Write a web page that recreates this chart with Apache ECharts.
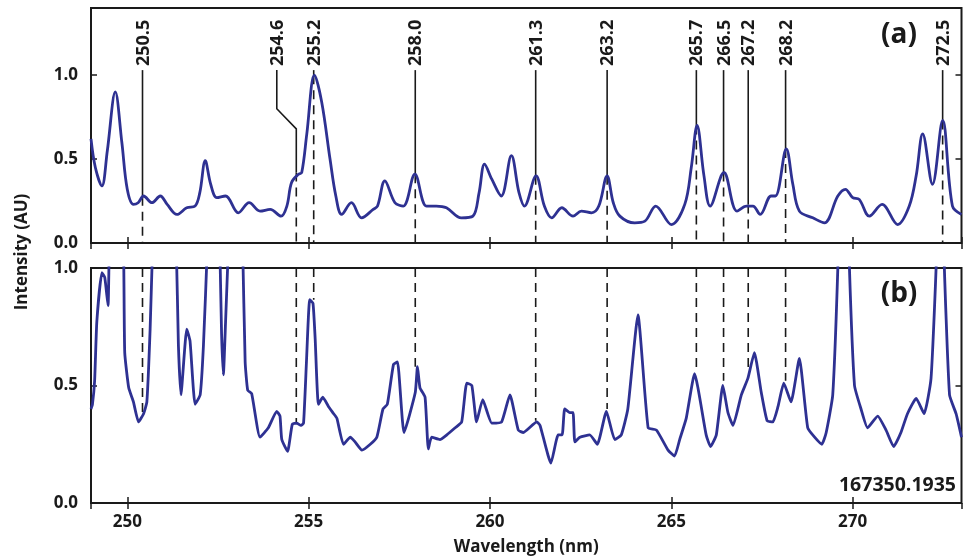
<!DOCTYPE html>
<html><head><meta charset="utf-8">
<script src="https://cdn.jsdelivr.net/npm/echarts@6/dist/echarts.min.js"></script>
<style>html,body{margin:0;padding:0;background:#fff}#c{width:963px;height:560px}</style>
</head><body><div id="c"></div>
<script>
// ---- data ----
const wavelengthsA = [249.00,249.12,249.30,249.45,249.67,249.85,250.00,250.17,250.30,250.45,250.68,250.91,251.10,251.37,251.64,251.87,252.00,252.15,252.30,252.47,252.71,253.06,253.36,253.66,253.94,254.24,254.40,254.53,254.72,254.81,254.95,255.16,255.36,255.59,255.75,255.91,256.18,256.46,256.78,256.90,257.10,257.38,257.61,257.93,258.25,258.52,258.80,259.21,259.53,259.70,259.85,260.05,260.31,260.59,260.80,260.95,261.27,261.50,261.70,261.98,262.29,262.52,262.80,263.00,263.23,263.40,263.58,263.99,264.27,264.57,265.00,265.37,265.55,265.71,265.90,266.07,266.45,266.81,267.07,267.25,267.45,267.75,267.87,268.17,268.35,268.53,268.90,269.22,269.59,269.80,270.00,270.18,270.46,270.81,271.24,271.56,271.75,271.93,272.20,272.48,272.75,273.00];
const intensityA = [0.62,0.45,0.34,0.55,0.90,0.60,0.32,0.23,0.24,0.28,0.24,0.28,0.23,0.17,0.21,0.22,0.30,0.49,0.35,0.27,0.28,0.18,0.24,0.19,0.20,0.16,0.22,0.36,0.41,0.42,0.65,1.00,0.84,0.50,0.28,0.17,0.24,0.15,0.20,0.22,0.37,0.24,0.22,0.41,0.22,0.22,0.21,0.15,0.16,0.30,0.47,0.38,0.28,0.52,0.30,0.22,0.40,0.22,0.15,0.21,0.16,0.19,0.18,0.22,0.40,0.24,0.16,0.12,0.13,0.22,0.11,0.23,0.45,0.70,0.40,0.22,0.42,0.19,0.22,0.22,0.17,0.28,0.28,0.56,0.35,0.19,0.15,0.12,0.28,0.32,0.27,0.26,0.16,0.23,0.11,0.22,0.40,0.65,0.35,0.73,0.22,0.17];

const wavelengthsB = [249.00,249.04,249.10,249.16,249.30,249.38,249.47,249.50,249.70,249.90,249.93,250.04,250.17,250.31,250.45,250.54,250.63,250.70,251.00,251.35,251.41,251.48,251.64,251.73,251.87,252.01,252.10,252.21,252.38,252.55,252.60,252.65,252.71,252.79,253.00,253.18,253.25,253.32,253.43,253.66,253.89,254.12,254.21,254.26,254.42,254.55,254.67,254.79,254.86,254.94,255.03,255.12,255.18,255.27,255.39,255.55,255.69,255.78,255.96,256.15,256.28,256.47,256.70,256.88,257.05,257.17,257.34,257.45,257.63,257.94,258.00,258.07,258.21,258.30,258.39,258.62,258.81,259.04,259.22,259.36,259.50,259.63,259.80,260.05,260.32,260.55,260.78,260.92,261.29,261.38,261.68,261.88,261.99,262.06,262.20,262.29,262.34,262.48,262.75,262.96,263.21,263.44,263.62,263.80,264.08,264.36,264.59,264.91,265.09,265.23,265.41,265.64,265.96,266.08,266.24,266.42,266.56,266.70,266.93,267.11,267.29,267.48,267.64,267.80,267.94,268.10,268.30,268.53,268.76,268.95,269.15,269.27,269.45,269.61,269.75,269.89,270.05,270.23,270.41,270.69,270.92,271.13,271.33,271.51,271.75,271.97,272.16,272.32,272.42,272.51,272.67,272.85,273.00];
const intensityB = [0.40,0.42,0.52,0.77,0.98,0.96,0.84,1.05,2.0,1.05,0.64,0.49,0.43,0.345,0.38,0.43,0.74,1.1,2.5,1.1,0.67,0.46,0.74,0.69,0.42,0.46,0.67,1.1,2.0,1.1,0.72,0.545,0.77,1.1,2.0,1.1,0.60,0.48,0.465,0.28,0.32,0.39,0.37,0.27,0.22,0.335,0.34,0.33,0.34,0.60,0.865,0.85,0.70,0.42,0.45,0.41,0.38,0.36,0.25,0.28,0.26,0.225,0.25,0.28,0.40,0.42,0.59,0.60,0.30,0.47,0.58,0.49,0.45,0.23,0.28,0.27,0.29,0.32,0.345,0.51,0.50,0.345,0.44,0.34,0.345,0.46,0.31,0.30,0.345,0.33,0.17,0.29,0.29,0.40,0.385,0.385,0.26,0.28,0.29,0.25,0.39,0.27,0.29,0.40,0.80,0.32,0.31,0.225,0.20,0.27,0.36,0.55,0.29,0.24,0.29,0.50,0.385,0.33,0.46,0.53,0.64,0.47,0.35,0.345,0.41,0.51,0.43,0.615,0.32,0.28,0.25,0.30,0.46,1.1,2.0,1.1,0.50,0.40,0.32,0.37,0.31,0.24,0.30,0.38,0.445,0.38,0.53,1.1,2.5,1.1,0.46,0.38,0.28];

const lineLabels = ['250.5','254.6','255.2','258.0','261.3','263.2','265.7','266.5','267.2','268.2','272.5'];
const linePositions = [250.42,254.66,255.14,257.94,261.26,263.23,265.69,266.44,267.12,268.15,272.48];
const lineHeightA = [0.275,0.42,1.0,0.41,0.40,0.40,0.70,0.42,0.23,0.56,0.73];
const lineHeightB = [0.38,0.34,0.865,0.58,0.35,0.40,0.57,0.52,0.57,0.52,null];

const xMin = 249, xMax = 273;
const yMaxA = 1.4, yMaxB = 1.0;
const yInterval = 0.5;
const sampleId = '167350.1935';

// ---- style ----
const INK = '#1a1a1a';
const CURVE = '#2e3192';
const FONT = '"Open Sans", "DejaVu Sans", sans-serif';
const LABEL_BASE = 1.03;   // value (panel a) where the rotated labels sit
const BENT = 1;            // index of the label with a bent leader
const MARK_W = 1.6;
const DASH = [9, 6];

const chart = echarts.init(document.getElementById('c'), null, {renderer: 'canvas'});

function xAx(gridIndex, position, showLabels, extra) {
  return Object.assign({
    type: 'value', gridIndex, position, min: xMin, max: xMax,
    splitNumber: 5, minInterval: 5, maxInterval: 5,
    axisLine: {show: false}, splitLine: {show: false},
    axisTick: {show: true, inside: true, length: 6, lineStyle: {color: INK, width: 1.5}},
    axisLabel: {show: showLabels, showMinLabel: false, showMaxLabel: false, margin: 11,
      color: INK, fontSize: 17, fontWeight: 'bold', fontFamily: FONT}
  }, extra || {});
}
function yAx(gridIndex, position, max, showLabels) {
  return {
    type: 'value', gridIndex, position, min: 0, max: max, interval: yInterval,
    axisLine: {show: false}, splitLine: {show: false},
    axisTick: {show: true, inside: true, length: 6, lineStyle: {color: INK, width: 1.5}},
    axisLabel: {show: showLabels, showMaxLabel: max === yMaxB, margin: 13, color: INK, fontSize: 17,
      fontWeight: 'bold', fontFamily: FONT, formatter: v => v.toFixed(1)}
  };
}

function renderTop(params, api) {
  const i = api.value(2);
  const x = api.value(0), v = api.value(1);
  const pBase = api.coord([x, 0]);
  const pCurve = api.coord([x, v]);
  const pTop = api.coord([x, LABEL_BASE]);
  const children = [];
  children.push({type: 'line', shape: {x1: pCurve[0], y1: pCurve[1], x2: pBase[0], y2: pBase[1]},
    style: {stroke: INK, lineWidth: MARK_W, lineDash: DASH}});
  let labelX = pTop[0];
  if (i === BENT) {
    labelX = pTop[0] - 19.5;
    const yKnee1 = api.coord([x, 0.80])[1];
    const yKnee2 = api.coord([x, 0.68])[1];
    children.push({type: 'polyline', shape: {points: [[labelX, pTop[1]], [labelX, yKnee1], [pTop[0], yKnee2], [pCurve[0], pCurve[1]]]},
      style: {stroke: INK, lineWidth: MARK_W, fill: null}});
  } else {
    children.push({type: 'line', shape: {x1: pTop[0], y1: pTop[1], x2: pCurve[0], y2: pCurve[1]},
      style: {stroke: INK, lineWidth: MARK_W}});
  }
  children.push({type: 'text', x: labelX + 1, y: pTop[1] - 4, rotation: Math.PI / 2,
    style: {text: lineLabels[i], align: 'left', verticalAlign: 'middle', textAlign: 'left', textVerticalAlign: 'middle',
      font: 'bold 18px ' + FONT, fill: INK}});
  return {type: 'group', children};
}
function renderBottom(params, api) {
  const x = api.value(0), v = api.value(1);
  const pTop = api.coord([x, yMaxB]);
  const pCurve = api.coord([x, v]);
  return {type: 'line', shape: {x1: pTop[0], y1: pTop[1], x2: pCurve[0], y2: pCurve[1]},
    style: {stroke: INK, lineWidth: MARK_W, lineDash: DASH}};
}

const gridFrame = {show: true, borderColor: INK, borderWidth: 2, backgroundColor: 'transparent'};

chart.setOption({
  animation: false,
  backgroundColor: '#fff',
  grid: [
    Object.assign({left: 91, right: 1.5, top: 8, height: 235}, gridFrame),
    Object.assign({left: 91, right: 1.5, top: 268, height: 235}, gridFrame)
  ],
  xAxis: [
    xAx(0, 'bottom', false),
    xAx(0, 'top', false),
    xAx(1, 'bottom', true, {name: 'Wavelength (nm)', nameLocation: 'middle', nameGap: 36,
      nameTextStyle: {color: INK, fontSize: 17, fontWeight: 'bold', fontFamily: FONT}}),
    xAx(1, 'top', false)
  ],
  yAxis: [
    yAx(0, 'left', yMaxA, true),
    yAx(0, 'right', yMaxA, false),
    yAx(1, 'left', yMaxB, true),
    yAx(1, 'right', yMaxB, false)
  ],
  graphic: [
    {type: 'text', x: 22, y: 252, rotation: Math.PI / 2,
      style: {text: 'Intensity (AU)', align: 'center', verticalAlign: 'middle', textAlign: 'center', textVerticalAlign: 'middle',
        font: 'bold 17px ' + FONT, fill: INK}},
    {type: 'text', x: 899, y: 35,
      style: {text: '(a)', align: 'center', verticalAlign: 'middle', textAlign: 'center', textVerticalAlign: 'middle',
        font: 'bold 28px ' + FONT, fill: INK}},
    {type: 'text', x: 899, y: 294,
      style: {text: '(b)', align: 'center', verticalAlign: 'middle', textAlign: 'center', textVerticalAlign: 'middle',
        font: 'bold 28px ' + FONT, fill: INK}},
    {type: 'text', x: 956, y: 485,
      style: {text: sampleId, align: 'right', verticalAlign: 'middle', textAlign: 'right', textVerticalAlign: 'middle',
        font: 'bold 19.5px ' + FONT, fill: INK}}
  ],
  series: [
    {type: 'custom', xAxisIndex: 0, yAxisIndex: 0, z: 2, silent: true,
      data: linePositions.map((p, i) => [p, lineHeightA[i], i]),
      encode: {x: 0, y: 1}, renderItem: renderTop},
    {type: 'custom', xAxisIndex: 2, yAxisIndex: 2, z: 2, silent: true,
      data: linePositions.map((p, i) => [p, lineHeightB[i], i]).filter(d => d[1] !== null),
      encode: {x: 0, y: 1}, renderItem: renderBottom},
    {type: 'line', xAxisIndex: 0, yAxisIndex: 0, z: 3, clip: true, smooth: 0.35, showSymbol: false, silent: true,
      data: wavelengthsA.map((w, i) => [w, intensityA[i]]),
      lineStyle: {color: CURVE, width: 2.8}},
    {type: 'line', xAxisIndex: 2, yAxisIndex: 2, z: 3, clip: true, smooth: 0.15, showSymbol: false, silent: true,
      data: wavelengthsB.map((w, i) => [w, intensityB[i]]),
      lineStyle: {color: CURVE, width: 2.8}}
  ]
});
</script>
</body></html>
